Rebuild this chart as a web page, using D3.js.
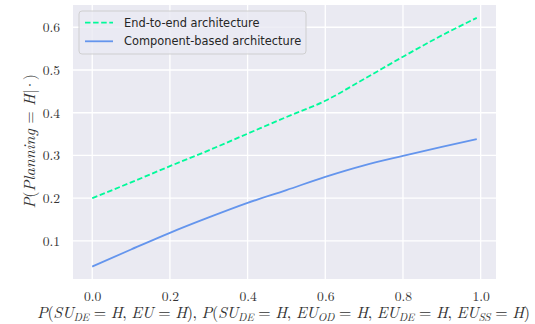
<!DOCTYPE html>
<html>
<head>
<meta charset="utf-8">
<script src="https://cdn.jsdelivr.net/npm/d3@7"></script>
<style>
  body { margin: 0; background: #fff; }
  svg { display: block; }
</style>
</head>
<body>
<div id="chart"></div>
<script>
// values
const xValues = [0.0, 0.1, 0.2, 0.3, 0.4, 0.5, 0.6, 0.7, 0.8, 0.9, 0.99];
const endToEnd = [0.200, 0.237, 0.275, 0.312, 0.351, 0.390, 0.428, 0.479, 0.531, 0.581, 0.622];
const componentBased = [0.040, 0.080, 0.119, 0.155, 0.189, 0.219, 0.250, 0.277, 0.299, 0.320, 0.338];
const xTicks = [0.0, 0.2, 0.4, 0.6, 0.8, 1.0];
const yTicks = [0.1, 0.2, 0.3, 0.4, 0.5, 0.6];
const seriesNames = ["End-to-end architecture", "Component-based architecture"];

const W = 535, H = 324;
const margin = { top: 5, right: 39, bottom: 45, left: 73 };
const width = W - margin.left - margin.right;
const height = H - margin.top - margin.bottom;
const serif = "Latin Modern Roman";

const series = [
  { name: seriesNames[0], values: endToEnd, color: "#00fa9a", dash: "5.5,2.6" },
  { name: seriesNames[1], values: componentBased, color: "#6495ed", dash: null }
];

const svg = d3.select("#chart")
  .append("svg")
  .attr("width", W)
  .attr("height", H);

const g = svg.append("g")
  .attr("transform", `translate(${margin.left},${margin.top})`);

// matplotlib-style 5% padding around the data
const x = d3.scaleLinear().domain([-0.0495, 1.0395]).range([0, width]);
const y = d3.scaleLinear().domain([0.0109, 0.6521]).range([height, 0]);

g.append("rect")
  .attr("width", width)
  .attr("height", height)
  .attr("fill", "#eaeaf2");

// grid
g.selectAll("line.vgrid").data(xTicks).enter()
  .append("line")
  .attr("x1", d => x(d)).attr("x2", d => x(d))
  .attr("y1", 0).attr("y2", height)
  .attr("stroke", "#fff").attr("stroke-width", 1.3);

g.selectAll("line.hgrid").data(yTicks).enter()
  .append("line")
  .attr("y1", d => y(d)).attr("y2", d => y(d))
  .attr("x1", 0).attr("x2", width)
  .attr("stroke", "#fff").attr("stroke-width", 1.3);

// axes (tick labels only, seaborn darkgrid has no spines)
const xAxis = g.append("g")
  .attr("transform", `translate(0,${height})`)
  .call(d3.axisBottom(x).tickValues(xTicks).tickFormat(d3.format(".1f")).tickSize(0).tickPadding(12));
const yAxis = g.append("g")
  .call(d3.axisLeft(y).tickValues(yTicks).tickFormat(d3.format(".1f")).tickSize(0).tickPadding(13));

[xAxis, yAxis].forEach(a => {
  a.attr("font-family", serif).attr("font-size", 13.6);
  a.select(".domain").remove();
  a.selectAll("text").attr("fill", "#333");
});

// lines
const line = d3.line()
  .x((d, i) => x(xValues[i]))
  .y(d => y(d))
  .curve(d3.curveMonotoneX);

series.forEach(s => {
  g.append("path")
    .datum(s.values)
    .attr("fill", "none")
    .attr("stroke", s.color)
    .attr("stroke-width", 1.8)
    .attr("stroke-dasharray", s.dash)
    .attr("d", line);
});

// legend
const legend = g.append("g").attr("transform", "translate(6,6)");
legend.append("rect")
  .attr("width", 227)
  .attr("height", 43)
  .attr("rx", 3)
  .attr("fill", "#eaeaf2")
  .attr("fill-opacity", 0.8)
  .attr("stroke", "#cccccc")
  .attr("stroke-width", 0.9);

series.forEach((s, i) => {
  const row = legend.append("g").attr("transform", `translate(0,${11.7 + i * 18.6})`);
  row.append("line")
    .attr("x1", 6).attr("x2", 34)
    .attr("stroke", s.color)
    .attr("stroke-width", 1.8)
    .attr("stroke-dasharray", s.dash);
  row.append("text")
    .attr("x", 45)
    .attr("dy", "0.35em")
    .attr("font-family", "DejaVu Sans")
    .attr("font-size", 11.4)
    .attr("fill", "#262626")
    .text(s.name);
});

// math-style labels
function mathText(sel, parts) {
  parts.forEach(p => {
    const t = sel.append("tspan").text(p.t);
    if (p.i) t.attr("font-style", "italic");
    if (p.sub) t.attr("font-size", "0.7em").attr("baseline-shift", "-25%");
    if (p.tight) t.attr("letter-spacing", -1.5);
  });
}

const xLabel = svg.append("text")
  .attr("x", 37)
  .attr("y", 318)
  .attr("textLength", 493)
  .attr("lengthAdjust", "spacing")
  .attr("font-family", serif)
  .attr("font-size", 16)
  .attr("fill", "#333");

mathText(xLabel, [
  { t: "P", i: 1 }, { t: "(" }, { t: "SU", i: 1 }, { t: "DE", i: 1, sub: 1 }, { t: " = " }, { t: "H", i: 1 },
  { t: ", " }, { t: "EU", i: 1 }, { t: " = " }, { t: "H", i: 1 }, { t: "), " },
  { t: "P", i: 1 }, { t: "(" }, { t: "SU", i: 1 }, { t: "DE", i: 1, sub: 1 }, { t: " = " }, { t: "H", i: 1 },
  { t: ", " }, { t: "EU", i: 1 }, { t: "OD", i: 1, sub: 1 }, { t: " = " }, { t: "H", i: 1 },
  { t: ", " }, { t: "EU", i: 1 }, { t: "DE", i: 1, sub: 1 }, { t: " = " }, { t: "H", i: 1 },
  { t: ", " }, { t: "EU", i: 1 }, { t: "SS", i: 1, sub: 1 }, { t: " = " }, { t: "H", i: 1 }, { t: ")" }
]);

const yLabel = svg.append("text")
  .attr("transform", `translate(35,${margin.top + height / 2}) rotate(-90)`)
  .attr("text-anchor", "middle")
  .attr("font-family", serif)
  .attr("font-size", 16)
  .attr("fill", "#333");

mathText(yLabel, [
  { t: "P", i: 1 }, { t: "(" }, { t: "Planning", i: 1 }, { t: " = " }, { t: "H", i: 1 }, { t: "|·)", tight: 1 }
]);
</script>
</body>
</html>
